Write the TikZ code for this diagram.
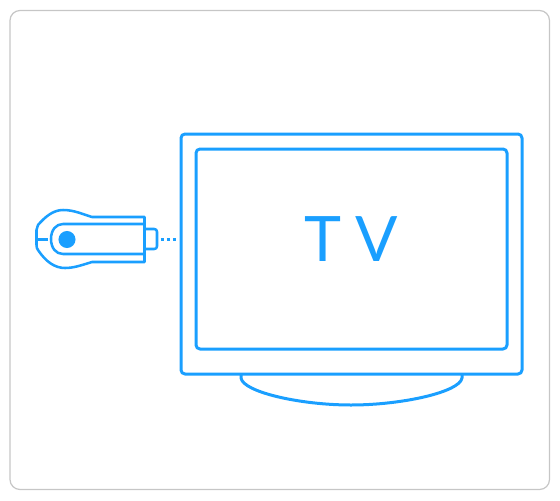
\documentclass[tikz,border=0pt]{standalone}
\usepackage{fontspec}
\newfontfamily\tvfont{Lato}
\definecolor{tvblue}{HTML}{1A9FFF}
\definecolor{framegray}{HTML}{C6C6C6}
\tikzset{
  blueline/.style={draw=tvblue,line width=2.25pt,line join=round},
  thinblue/.style={draw=tvblue,line width=1.9pt,line join=round},
  frameline/.style={draw=framegray,line width=0.9pt},
  dotlink/.style={draw=tvblue,line width=2.1pt,dash pattern=on 2.1pt off 2.4pt},
}
\begin{document}
\begin{tikzpicture}[x=0.75pt,y=-0.75pt]
\useasboundingbox (0,0) rectangle (560,500);
\draw[frameline,rounded corners=7.5pt] (10,10.5) rectangle (549.5,489.5);
% TV
\draw[blueline,rounded corners=3pt] (181,134) rectangle (522,374);
\draw[blueline,rounded corners=3pt] (196,149) rectangle (507,349);
\draw[blueline] (241,375) -- (241,378) .. controls (243,392) and (300,405) .. (351,405)
   .. controls (402,405) and (460,392) .. (462,378) -- (462,375);
\node[text=tvblue,font=\tvfont\fontsize{47}{47}\selectfont,inner sep=0pt] (tvlabel) at (351,239.5) {T\hspace{0.23em}V};
% dongle
\draw[thinblue] (144.5,217) -- (92,217) .. controls (82,214) and (74,210) .. (63,210)
   .. controls (53,210) and (45,217) .. (38,225) .. controls (37,227) and (36.5,228) .. (36.5,230) -- (36.5,245)
   .. controls (36.5,247) and (37,249) .. (38,250)
   .. controls (46,262) and (55,268) .. (65,268)
   .. controls (74,268) and (82,265) .. (92,262) -- (144.5,262) -- cycle;
\draw[thinblue] (144.5,224) -- (63,224) .. controls (56,224) and (51,230) .. (51,239)
   .. controls (51,248) and (56,254) .. (63,254) -- (144.5,254);
\draw[thinblue,rounded corners=2pt] (144.5,229) -- (157,229) -- (157,249) -- (144.5,249);
\fill[tvblue] (67,239.5) circle[radius=6.4pt];
\draw[thinblue] (38,239.5) -- (47.5,239.5);
\coordinate (dotstart) at (160.8,239.5);
\coordinate (dotend) at (176,239.5);
\draw[dotlink] (dotstart) -- (dotend);
\end{tikzpicture}
\end{document}
